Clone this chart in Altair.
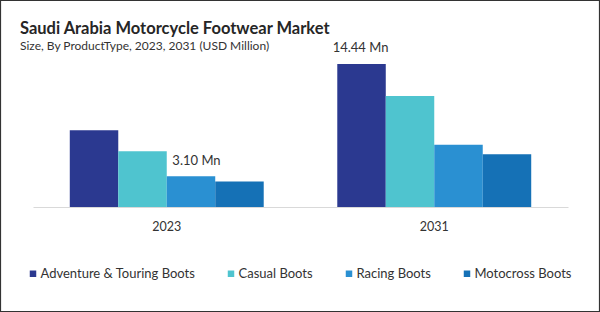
import altair as alt
import pandas as pd

years = ["2023", "2031"]
types = ["Adventure & Touring Boots", "Casual Boots", "Racing Boots", "Motocross Boots"]
values_2023 = [7.75, 5.63, 3.10, 2.57]
values_2031 = [14.44, 11.21, 6.30, 5.32]
colors = ["#2b3990", "#4fc4cf", "#2a90d2", "#1571b6"]

label_year = ["2023", "2031"]
label_type = ["Racing Boots", "Adventure & Touring Boots"]
label_text = ["3.10 Mn", "14.44 Mn"]

rows = []
for y, vals in zip(years, [values_2023, values_2031]):
    for t, v in zip(types, vals):
        rows.append({"year": y, "type": t, "value": v})
df = pd.DataFrame(rows)
lab = pd.DataFrame({"year": label_year, "type": label_type, "text": label_text})
lab = lab.merge(df, on=["year", "type"])

FONT = "Lato"

xenc = alt.X("year:N", sort=years,
             scale=alt.Scale(paddingInner=0.275, paddingOuter=0.1375),
             axis=alt.Axis(title=None, ticks=False, labelAngle=0, labelFont=FONT,
                           labelFontSize=12.5, labelColor="#333333", labelPadding=13,
                           domainColor="#d9d9d9", domainWidth=1))
xoff = alt.XOffset("type:N", sort=types, scale=alt.Scale(paddingInner=0, paddingOuter=0))
yenc = alt.Y("value:Q", scale=alt.Scale(domain=[0, 15.86], nice=False, zero=True), axis=None)

bars = alt.Chart(df).mark_bar(strokeWidth=0).encode(
    x=xenc, xOffset=xoff, y=yenc,
    color=alt.Color("type:N", sort=types, scale=alt.Scale(domain=types, range=colors),
                    legend=alt.Legend(title=None, orient="none", direction="horizontal",
                                      columns=4, columnPadding=29, legendX=-6.5, legendY=217,
                                      symbolType="square", symbolSize=42, symbolStrokeWidth=0,
                                      labelFont=FONT, labelFontSize=13, labelColor="#333333",
                                      labelOffset=1, padding=0, labelLimit=300)),
)

t1 = alt.Chart(lab[lab["year"] == "2023"]).mark_text(
    font=FONT, fontSize=13, color="#333333", baseline="alphabetic", dy=-11, dx=5.5
).encode(x=xenc, xOffset=xoff, y=yenc, text="text:N")

t2 = alt.Chart(lab[lab["year"] == "2031"]).mark_text(
    font=FONT, fontSize=13, color="#333333", baseline="alphabetic", dy=-12, dx=-1
).encode(x=xenc, xOffset=xoff, y=yenc, text="text:N")

border = alt.Chart(alt.Data(values=[{"k": 1}])).mark_rect(
    filled=False, stroke="#333333", strokeWidth=1.2
).encode(x=alt.value(-32.5), x2=alt.value(566.5), y=alt.value(-49.5), y2=alt.value(261.5))

chart = alt.layer(bars, t1, t2, border).properties(
    width=535, height=157,
    background="white",
    autosize=alt.AutoSizeParams(type="none"),
    padding={"left": 33, "top": 50, "right": 32, "bottom": 105},
    title=alt.TitleParams(
        text="Saudi Arabia Motorcycle Footwear Market",
        subtitle="Size, By ProductType,  2023, 2031 (USD Million)",
        anchor="start", frame="group", dx=-13, dy=60, offset=8,
        font=FONT, fontSize=16.5, fontWeight="bold", color="#262626",
        subtitleFont=FONT, subtitleFontSize=12, subtitleColor="#333333", subtitlePadding=3,
    ),
).configure_view(strokeWidth=0, stroke="transparent")

chart.save("out.html", embed_options={"renderer": "svg", "actions": False})
